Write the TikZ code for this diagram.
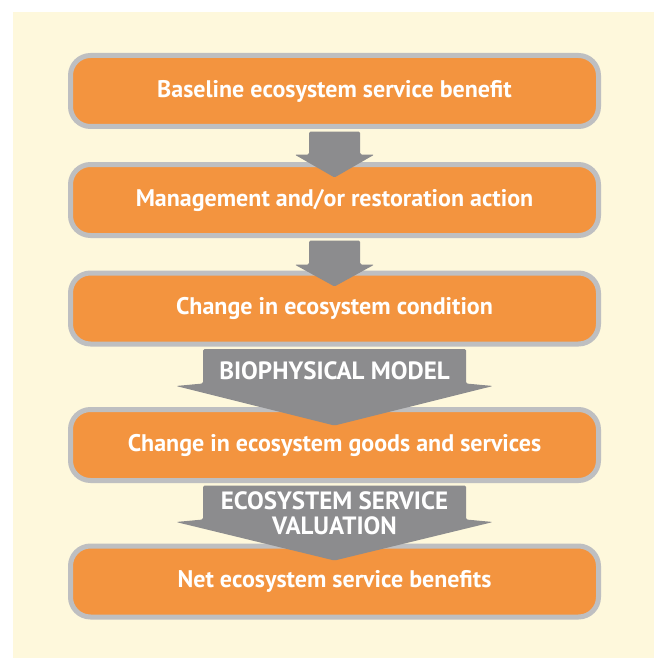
\documentclass[tikz,border=0pt]{standalone}
\usepackage{fontspec}
\setmainfont{PT Sans}
\usepackage{tikz}
\usetikzlibrary{calc}
\definecolor{fcream}{RGB}{254, 248, 220}
\definecolor{forange}{RGB}{243, 148, 63}
\definecolor{fborder}{RGB}{190, 191, 193}
\definecolor{farrow}{RGB}{140, 140, 142}

\begin{document}
\begin{tikzpicture}[x=1pt,y=-1pt]
                \useasboundingbox (0,0) rectangle (654,658);
                \fill [fcream] (13,12) rectangle (654,658);

                \tikzstyle{stage}=[rectangle, rounded corners=20pt, draw=fborder, line width=5pt, fill=forange, minimum width=528pt, minimum height=71pt, text centered, text=white, font=\fontsize{24}{28}\selectfont\bfseries]
                \node[stage] (S1) at (334.5,91) {Baseline ecosystem service benefit};
                \node[stage] (S2) at (334.5,200) {Management and/or restoration action};
                \node[stage] (S3) at (334.5,308.5) {Change in ecosystem condition};
                \node[stage] (S4) at (334.5,445) {Change in ecosystem goods and services};
                \node[stage] (S5) at (334.5,581.5) {Net ecosystem service benefits};

                \tikzstyle{flow}=[fill=farrow, rounded corners=1.5pt]

                % small arrows
                \fill[flow] ($(S1.south)+(-25.5,2.5)$) -- ($(S1.south)+(-25.5,25.5)$) -- ($(S1.south)+(-40,25.5)$)
                    -- ($(S2.north)+(0,15.5)$) -- ($(S1.south)+(40,25.5)$) -- ($(S1.south)+(25.5,25.5)$) -- ($(S1.south)+(25.5,2.5)$) -- cycle;
                \fill[flow] ($(S2.south)+(-25.5,2.5)$) -- ($(S2.south)+(-25.5,26.5)$) -- ($(S2.south)+(-40,26.5)$)
                    -- ($(S3.north)+(0,16)$) -- ($(S2.south)+(40,26.5)$) -- ($(S2.south)+(25.5,26.5)$) -- ($(S2.south)+(25.5,2.5)$) -- cycle;

                % big arrows
                \fill[flow] ($(S3.south)+(-131.5,2.5)$) -- ($(S3.south)+(-131.5,37)$) -- ($(S3.south)+(-158.5,39.5)$)
                    -- ($(S4.north)+(0,18.5)$) -- ($(S3.south)+(158.5,39.5)$) -- ($(S3.south)+(131.5,37)$) -- ($(S3.south)+(131.5,2.5)$) -- cycle;
                \fill[flow] ($(S4.south)+(-131.5,2.5)$) -- ($(S4.south)+(-131.5,36.5)$) -- ($(S4.south)+(-158.5,39)$)
                    -- ($(S5.north)+(0,17)$) -- ($(S4.south)+(158.5,39)$) -- ($(S4.south)+(131.5,36.5)$) -- ($(S4.south)+(131.5,2.5)$) -- cycle;

                \tikzstyle{step label}=[text=white, align=center, font=\fontsize{25}{25}\selectfont\bfseries]
                \node[step label] (M1) at (334.5,371) {BIOPHYSICAL MODEL};
                \node[step label] (M2) at (334.5,513) {ECOSYSTEM SERVICE\\VALUATION};
            \end{tikzpicture}
\end{document}
